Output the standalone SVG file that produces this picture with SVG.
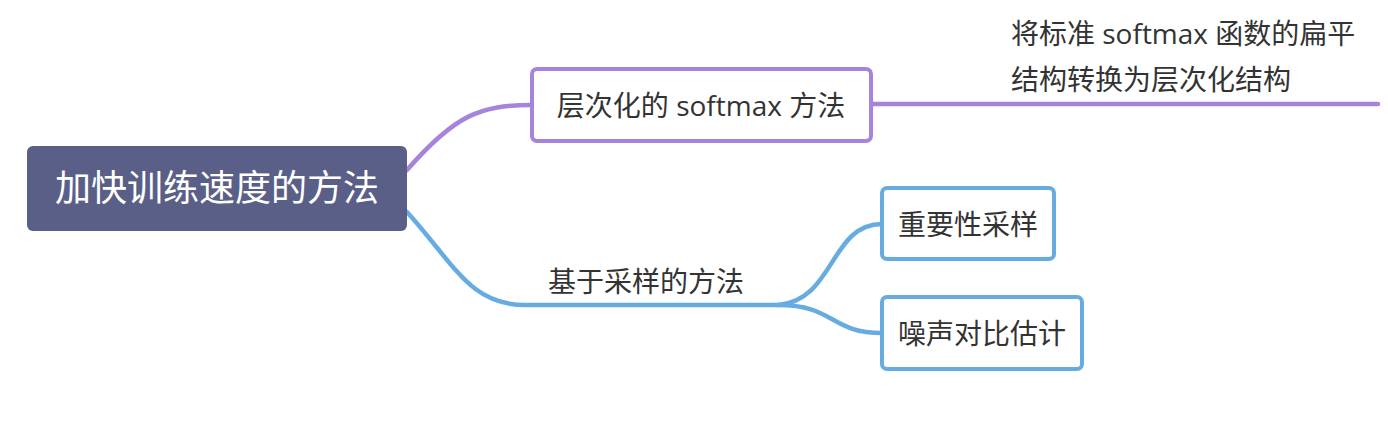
<svg xmlns="http://www.w3.org/2000/svg" width="1388" height="424" viewBox="0 0 1388 424">
<style>
text{font-family:"Open Sans","Noto Sans CJK SC",sans-serif;fill:#333;font-size:28px}
.root{fill:#fff;font-size:36px}
.line{fill:none;stroke-width:4.5;stroke-linecap:round}
.p{stroke:#a684dc}
.b{stroke:#67ace0}
.box{fill:#fff;stroke-width:4}
</style>
<rect width="1388" height="424" fill="#fff"/>
<g id="connectors">
<path class="line p" d="M407,170 C455,115 480,105 532,105"/>
<path class="line p" d="M871,104 L1378,104"/>
<path class="line b" d="M407,212 C455,265 470,305 525,305 L778,305"/>
<path class="line b" d="M778,305 C835,300 830,224 882,224"/>
<path class="line b" d="M778,305 C835,305 830,333 882,333"/>
</g>
<g id="root">
<rect x="27" y="146" width="380" height="85" rx="6" fill="#5a5f88"/>
<text class="root" x="217" y="201" text-anchor="middle">加快训练速度的方法</text>
</g>
<g id="node-hs">
<rect class="box" x="532" y="69" width="339" height="72" rx="5" stroke="#a684dc"/>
<text x="701" y="116" text-anchor="middle">层次化的 softmax 方法</text>
</g>
<g id="node-hs-desc">
<text x="1011" y="44">将标准 softmax 函数的扁平</text>
<text x="1011" y="90">结构转换为层次化结构</text>
</g>
<g id="node-sampling">
<text x="548" y="292">基于采样的方法</text>
</g>
<g id="node-is">
<rect class="box" x="882" y="188" width="172" height="71" rx="5" stroke="#67ace0"/>
<text x="968" y="235" text-anchor="middle">重要性采样</text>
</g>
<g id="node-nce">
<rect class="box" x="882" y="297" width="200" height="72" rx="5" stroke="#67ace0"/>
<text x="982" y="344" text-anchor="middle">噪声对比估计</text>
</g>
</svg>
